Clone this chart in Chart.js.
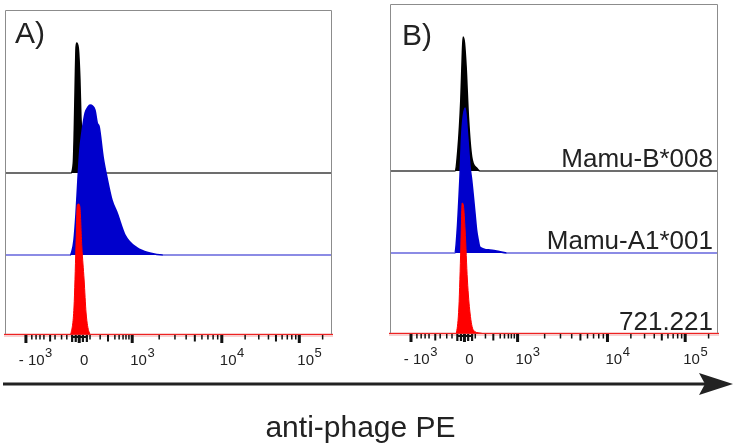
<!DOCTYPE html>
<html><head><meta charset="utf-8">
<script src="https://cdn.jsdelivr.net/npm/chart.js@4"></script>
<style>
html,body{margin:0;padding:0;background:#fff;width:733px;height:448px;overflow:hidden;position:relative;font-family:"Liberation Sans",Arial,sans-serif}
canvas{position:absolute}
svg{position:absolute;left:0;top:0}
#xt{position:absolute;left:0;width:721px;top:412px;line-height:30px;text-align:center;font-size:30px;color:#222;white-space:nowrap}
</style></head><body>
<canvas id="cA" width="329" height="368" style="left:4px;top:9px"></canvas>
<canvas id="cB" width="330" height="373" style="left:389px;top:3px"></canvas>
<svg width="733" height="448"><line x1="3" y1="384" x2="708" y2="384" stroke="#222" stroke-width="3"/><polygon points="699,373 733,384 699,395 705,384" fill="#222"/></svg>
<div id="xt">anti-phage PE</div>
<script>
// ---- Axis (display units 0..1000 across each panel) ----
const majorTickPos = [64, 227, 389, 663, 900];
const tickBase = ['10', '0', '10', '10', '10'];
const tickExp = ['3', '', '3', '4', '5'];
const tickSign = ['- ', '', '', '', ''];
const linMinorTicks = [82, 95, 107, 119, 153, 173, 189, 260, 291, 336, 349, 361, 370, 379];
const linMidTicks = [138, 315];
const zeroClusterTicks = [205, 216, 238, 250];
const sampleNames = ['Mamu-B*008', 'Mamu-A1*001', '721.221'];
const panelLetters = ['A)', 'B)'];

// ---- Panel A histograms (x: display units, y: counts above own baseline) ----
const offsetsA = [162, 80, 0];        // black, blue, red lanes
const blackAx = [201, 209, 212, 215, 217, 219, 224, 229, 232, 239, 248];
const blackAy = [0, 10, 43, 93, 123, 130, 125, 93, 56, 20, 0];
const blueAx = [199, 205, 211, 217, 223, 229, 235, 245, 254, 260, 275, 282, 288, 300, 312, 327, 343, 367, 404, 443, 483];
const blueAy = [0, 4, 15, 40, 75, 105, 122, 142, 148, 150, 145, 132, 128, 98, 77, 55, 42, 20, 7, 2, 0];
const redAx = [199, 202, 211, 217, 221, 225, 229, 235, 242, 248, 257, 266];
const redAy = [0, 2, 28, 88, 130, 131, 128, 88, 55, 22, 3, 0];

// ---- Panel B histograms ----
const offsetsB = [163, 81, 0];
const blackBx = [198, 207, 216, 220, 223, 227, 232, 239, 249, 264, 274];
const blackBy = [0, 21, 71, 111, 134, 128, 104, 54, 14, 3, 0];
const blueBx = [198, 205, 210, 213, 219, 229, 236, 244, 249, 259, 264, 269, 274, 305, 325, 356];
const blueBy = [0, 23, 53, 73, 120, 145, 120, 86, 73, 40, 23, 13, 6, 3, 2, 0];
const redBx = [200, 203, 210, 216, 220, 224, 229, 236, 244, 254, 274, 293];
const redBy = [0, 2, 27, 87, 131, 128, 104, 54, 21, 4, 1, 0];

function pts(xs, ys, off) {
  const p = [{x: 0, y: off}];
  xs.forEach((x, i) => p.push({x: x, y: off + ys[i]}));
  p.push({x: 1000, y: off});
  return p;
}

function minorDecadeTicks() {
  const m = [], mid = [];
  for (let d = 2; d < 4; d++) {
    const a = majorTickPos[d], b = majorTickPos[d + 1];
    for (let k = 2; k <= 9; k++) {
      const p = a + Math.log10(k) * (b - a);
      (k === 5 ? mid : m).push(p);
    }
  }
  m.push(majorTickPos[4] + Math.log10(2) * (majorTickPos[4] - majorTickPos[3]));
  return {m, mid};
}
const decTicks = minorDecadeTicks();

const deco = {
  id: 'deco',
  beforeDatasetsDraw(chart) {
    const {ctx, chartArea: a} = chart;
    ctx.save();
    ctx.fillStyle = 'rgba(232,120,120,0.35)';
    ctx.fillRect(a.left - 1, a.bottom - 2, a.right - a.left + 2, 4);
    ctx.restore();
  },
  afterDraw(chart) {
    const o = chart.options.plugins.deco;
    const {ctx, chartArea: a} = chart;
    const x = chart.scales.x;
    ctx.save();
    // frame (top, left, right)
    ctx.strokeStyle = '#8c8c8c'; ctx.lineWidth = 1;
    ctx.beginPath();
    ctx.moveTo(a.left + 0.5, a.bottom); ctx.lineTo(a.left + 0.5, a.top + 0.5);
    ctx.lineTo(a.right - 0.5, a.top + 0.5); ctx.lineTo(a.right - 0.5, a.bottom);
    ctx.stroke();
    // red axis line
    ctx.strokeStyle = '#ee2222'; ctx.lineWidth = 1;
    ctx.beginPath(); ctx.moveTo(a.left - 1, a.bottom - 0.5); ctx.lineTo(a.right + 1, a.bottom - 0.5); ctx.stroke();
    // ticks
    ctx.fillStyle = '#111';
    const B = a.bottom;
    linMinorTicks.concat(decTicks.m).forEach(v => { const p = x.getPixelForValue(v); ctx.fillRect(p - 0.75, B, 1.5, 4.5); });
    linMidTicks.concat(decTicks.mid).forEach(v => { const p = x.getPixelForValue(v); ctx.fillRect(p - 1, B, 2, 6.5); });
    zeroClusterTicks.forEach(v => { const p = x.getPixelForValue(v); ctx.fillRect(p - 1, B, 2.2, 7); });
    ctx.fillRect(x.getPixelForValue(zeroClusterTicks[0]), B + 1, x.getPixelForValue(zeroClusterTicks[3]) - x.getPixelForValue(zeroClusterTicks[0]), 2);
    majorTickPos.forEach(v => { const p = x.getPixelForValue(v); ctx.fillRect(p - 1.5, B, 3, 8); });
    // tick labels
    ctx.fillStyle = '#222';
    ctx.textBaseline = 'alphabetic';
    const ly = B + 30;
    majorTickPos.forEach((v, i) => {
      const p = x.getPixelForValue(v);
      ctx.font = '15px "Liberation Sans", Arial, sans-serif';
      if (tickExp[i] === '') {
        ctx.textAlign = 'center';
        ctx.fillText(tickBase[i], p + 5, ly);
        return;
      }
      let sx = tickSign[i] ? p + 2 : p - 2;
      if (tickSign[i]) { ctx.textAlign = 'right'; ctx.fillText(tickSign[i], sx, ly); }
      ctx.textAlign = 'left';
      ctx.fillText(tickBase[i], sx, ly);
      const w = ctx.measureText(tickBase[i]).width;
      ctx.font = '13px "Liberation Sans", Arial, sans-serif';
      ctx.fillText(tickExp[i], sx + w + 0.5, ly - 8);
    });
    // panel letter
    ctx.font = '30px "Liberation Sans", Arial, sans-serif';
    ctx.textAlign = 'left';
    ctx.fillStyle = '#222';
    ctx.fillText(o.letter, a.left + o.letterDx, a.top + o.letterDy);
    // sample names
    if (o.names) {
      ctx.font = '26px "Liberation Sans", Arial, sans-serif';
      ctx.textAlign = 'right';
      const y = chart.scales.y;
      o.names.forEach((n, i) => {
        ctx.fillText(n, a.right - 5, y.getPixelForValue(o.offsets[i]) - 4);
      });
    }
    ctx.restore();
  }
};

function makeChart(id, offsets, data, ymax, letter, ldx, ldy, names) {
  const colors = ['#000000', '#0000cc', '#ff0000'];
  const lineCol = ['#3c3c3c', '#6464dc', '#ff2a2a'];
  const ds = data.map((d, i) => ({
    data: pts(d[0], d[1], offsets[i]),
    borderColor: colors[i],
    backgroundColor: colors[i],
    borderWidth: i === 2 ? 1 : 1.6,
    fill: {value: offsets[i]},
    pointRadius: 0,
    tension: 0,
    cubicInterpolationMode: 'monotone',
    segment: {
      borderColor: c => (c.p0.parsed.y === offsets[i] && c.p1.parsed.y === offsets[i]) ? lineCol[i] : colors[i]
    },
    order: 2 - i
  }));
  return new Chart(document.getElementById(id), {
    type: 'line',
    data: {datasets: ds},
    options: {
      responsive: false,
      animation: false,
      layout: {padding: {left: 1, right: 1, top: 1, bottom: 42}},
      scales: {
        x: {type: 'linear', min: 0, max: 1000, display: false},
        y: {type: 'linear', min: 0, max: ymax, display: false}
      },
      plugins: {
        legend: {display: false},
        tooltip: {enabled: false},
        deco: {letter: letter, letterDx: ldx, letterDy: ldy, names: names, offsets: offsets}
      }
    },
    plugins: [deco]
  });
}

makeChart('cA', offsetsA, [[blackAx, blackAy], [blueAx, blueAy], [redAx, redAy]], 325, panelLetters[0], 10, 33, null);
makeChart('cB', offsetsB, [[blackBx, blackBy], [blueBx, blueBy], [redBx, redBy]], 330, panelLetters[1], 12, 41, sampleNames);
</script>
</body></html>
